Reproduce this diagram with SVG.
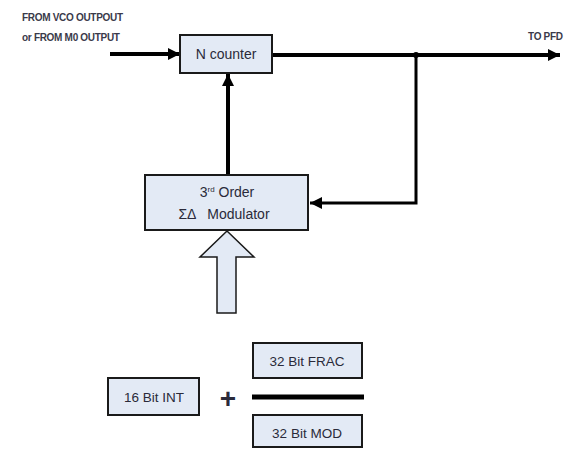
<svg xmlns="http://www.w3.org/2000/svg" width="571" height="450" viewBox="0 0 571 450">
<style>
.box{fill:#e3eaf5;stroke:#1a1a1a;stroke-width:2}
.t{font-family:"Liberation Sans",Arial,sans-serif;fill:#2a2a3a;text-anchor:middle}
.lbl{font-family:"Liberation Sans",Arial,sans-serif;fill:#3a3a4a;font-weight:bold;font-size:10px;letter-spacing:-0.3px}
.w{stroke:#000;fill:none}
</style>
<defs>
<marker id="ah" viewBox="0 0 10 10" refX="10" refY="5" markerWidth="3" markerHeight="3" orient="auto" markerUnits="strokeWidth">
<path d="M0,0 L10,5 L0,10 z" fill="#000"/>
</marker>
<marker id="ah2" viewBox="0 0 10 10" refX="10" refY="5" markerWidth="4" markerHeight="4" orient="auto" markerUnits="strokeWidth">
<path d="M0,0 L10,5 L0,10 z" fill="#000"/>
</marker>
</defs>
<rect width="571" height="450" fill="#fff"/>
<text class="lbl" x="22" y="21">FROM VCO OUTPOUT</text>
<text class="lbl" x="22" y="41">or FROM M0 OUTPUT</text>
<text class="lbl" x="528" y="40">TO PFD</text>
<g id="connectors">
<line class="w" x1="110" y1="54" x2="180" y2="54" stroke-width="4" marker-end="url(#ah)"/>
<line class="w" x1="272" y1="55" x2="560" y2="55" stroke-width="4" marker-end="url(#ah)"/>
<circle cx="416" cy="55" r="3" fill="#000"/>
<polyline class="w" points="416,55 416,203 310,203" stroke-width="3" marker-end="url(#ah2)"/>
<line class="w" x1="228" y1="175" x2="228" y2="74" stroke-width="4" marker-end="url(#ah)"/>
<path d="M227,231 L254,257 L236,257 L236,313 L217,313 L217,257 L200,257 Z" fill="#e3eaf5" stroke="#1a1a1a" stroke-width="1.5"/>
<line x1="252" y1="397" x2="364" y2="397" stroke="#000" stroke-width="5"/>
</g>
<g id="ncounter">
<rect class="box" x="180" y="35" width="92" height="38"/>
<text class="t" x="226" y="59" font-size="14">N counter</text>
</g>
<g id="modulator">
<rect class="box" x="145" y="175" width="163" height="55"/>
<text class="t" x="227" y="197" font-size="14">3<tspan font-size="8" dy="-5">rd</tspan><tspan dy="5"> Order</tspan></text>
<text class="t" x="224" y="219" font-size="14" xml:space="preserve">ΣΔ   Modulator</text>
</g>
<g id="int">
<rect class="box" x="108" y="378" width="91" height="37"/>
<text class="t" x="154" y="402" font-size="13.5">16 Bit INT</text>
</g>
<g id="plus">
<text class="t" x="228" y="408" font-size="28" font-weight="bold" fill="#000">+</text>
</g>
<g id="frac">
<rect class="box" x="253" y="343" width="109" height="35"/>
<text class="t" x="307" y="366" font-size="13.5">32 Bit FRAC</text>
</g>
<g id="mod">
<rect class="box" x="253" y="415" width="109" height="32"/>
<text class="t" x="307" y="438" font-size="13.5">32 Bit MOD</text>
</g>
</svg>
